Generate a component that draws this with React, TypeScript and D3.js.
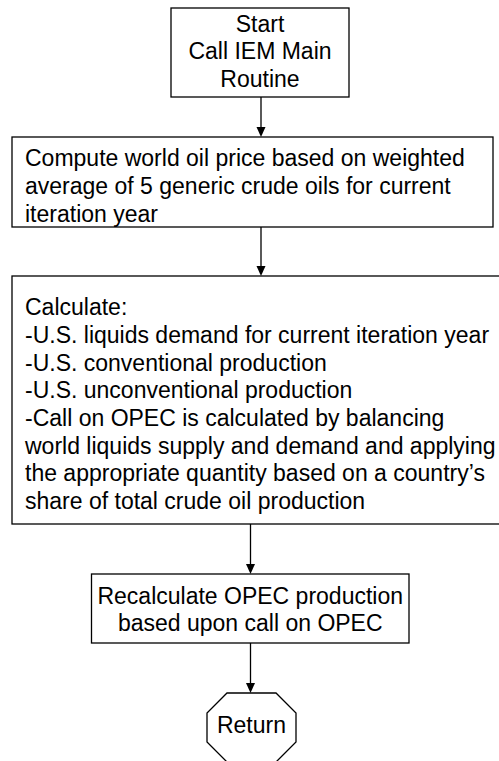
import React from 'react'
import * as d3 from 'd3'

// node texts, top to bottom
const startLines = ['Start', 'Call IEM Main', 'Routine']
const priceLines = [
  'Compute world oil price based on weighted',
  'average of 5 generic crude oils for current',
  'iteration year',
]
const calcLines = [
  'Calculate:',
  '-U.S. liquids demand for current iteration year',
  '-U.S. conventional production',
  '-U.S. unconventional production',
  '-Call on OPEC is calculated by balancing',
  'world liquids supply and demand and applying',
  'the appropriate quantity based on a country\u2019s',
  'share of total crude oil production',
]
const opecLines = ['Recalculate OPEC production', 'based upon call on OPEC']
const returnLines = ['Return']

const W = 499
const H = 761
const FONT = 23
const LINE = 27.7
const STROKE = '#000'

// layout of the nodes (x, y, width, height, first line centre)
const layout = [
  { lines: startLines, shape: 'rect', x: 171, y: 8, w: 178, h: 89, first: 23.5, align: 'middle' },
  { lines: priceLines, shape: 'rect', x: 12, y: 137, w: 481, h: 90, first: 158, align: 'start' },
  { lines: calcLines, shape: 'rect', x: 12, y: 276, w: 500, h: 248, first: 307, align: 'start' },
  { lines: opecLines, shape: 'rect', x: 91.5, y: 574, w: 317.5, h: 69, first: 595.5, align: 'middle' },
  { lines: returnLines, shape: 'oct', x: 207, y: 693, w: 89, h: 69, first: 725, align: 'middle' },
]
// arrows connect the centre line of each node to the next one
const arrowX = [261, 261, 250.5, 250.5]

function octagon(x: number, y: number, w: number, h: number) {
  const c = 20
  const pts: [number, number][] = [
    [x + c, y], [x + w - c, y], [x + w, y + c], [x + w, y + h - c],
    [x + w - c, y + h], [x + c, y + h], [x, y + h - c], [x, y + c],
  ]
  return d3.line()(pts) + 'Z'
}

export default function App() {
  const arrows = layout.slice(0, -1).map((n, i) => {
    const next = layout[i + 1]
    return { x: arrowX[i], y1: n.y + n.h, y2: next.y }
  })

  return (
    <svg width={W} height={H} style={{ position: 'absolute', left: 0, top: 0, background: '#fff' }}
      fontFamily="'Liberation Sans', Arial, sans-serif" fontSize={FONT}>
      <rect width={W} height={H} fill="#fff" />
      {layout.map((n, i) => (
        <g key={i}>
          {n.shape === 'rect'
            ? <rect x={n.x} y={n.y} width={n.w} height={n.h} fill="#fff" stroke={STROKE} strokeWidth={1.3} />
            : <path d={octagon(n.x, n.y, n.w, n.h)} fill="#fff" stroke={STROKE} strokeWidth={1.3} />}
          {n.lines.map((t, j) => (
            <text key={j}
              x={n.align === 'middle' ? n.x + n.w / 2 : n.x + 13}
              y={n.first + j * LINE}
              dy="0.36em"
              textAnchor={n.align}
              fill="#000">{t}</text>
          ))}
        </g>
      ))}
      {arrows.map((a, i) => (
        <g key={'a' + i}>
          <line x1={a.x} x2={a.x} y1={a.y1} y2={a.y2 - 9} stroke={STROKE} strokeWidth={1.3} />
          <path d={d3.line()([[a.x - 4.5, a.y2 - 10], [a.x + 4.5, a.y2 - 10], [a.x, a.y2]]) + 'Z'} fill={STROKE} />
        </g>
      ))}
    </svg>
  )
}
